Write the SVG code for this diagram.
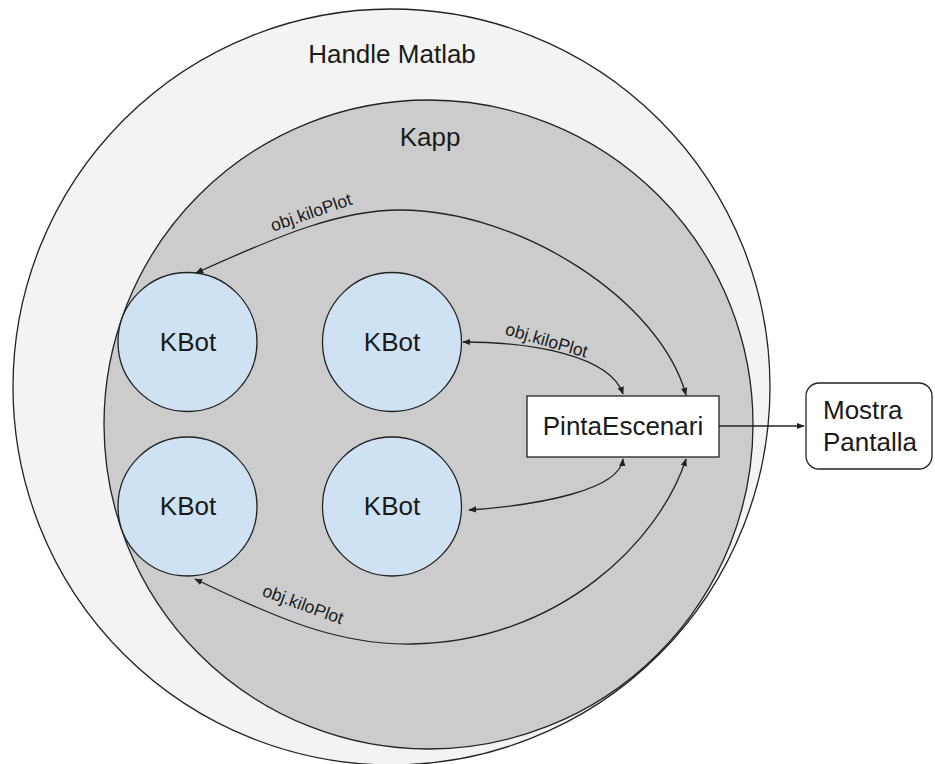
<svg xmlns="http://www.w3.org/2000/svg" width="935" height="764" viewBox="0 0 935 764">
  <style>
    .lbl { font-family: "Liberation Sans", Arial, sans-serif; fill: #1a1a1a; }
    .big { font-size: 26px; text-anchor: middle; }
    .small { font-size: 17.5px; text-anchor: middle; }
    .shape { stroke: #222; stroke-width: 1.3; }
    .edge { fill: none; stroke: #222; stroke-width: 1.3; }
  </style>
  <defs>
    <marker id="arrow" viewBox="0 0 10 10" refX="9" refY="5" markerWidth="8" markerHeight="8" markerUnits="userSpaceOnUse" orient="auto-start-reverse">
      <path d="M0,1 L10,5 L0,9 z" fill="#222"/>
    </marker>
  </defs>
  <rect width="935" height="764" fill="#ffffff"/>

  <!-- Containers -->
  <g id="handle-matlab">
    <ellipse class="shape" cx="391.5" cy="387" rx="378.5" ry="378" fill="#f3f3f3"/>
    <text class="lbl big" x="392" y="63">Handle Matlab</text>
  </g>
  <g id="kapp">
    <ellipse class="shape" cx="428.5" cy="424.5" rx="324.5" ry="324.5" fill="#cccccc"/>
    <text class="lbl big" x="430" y="146">Kapp</text>
  </g>

  <!-- Robots -->
  <g id="kbot-1">
    <circle class="shape" cx="187.5" cy="342" r="69.5" fill="#cfe2f3"/>
    <text class="lbl big" x="188" y="351">KBot</text>
  </g>
  <g id="kbot-2">
    <circle class="shape" cx="392" cy="342" r="69.5" fill="#cfe2f3"/>
    <text class="lbl big" x="392" y="351">KBot</text>
  </g>
  <g id="kbot-3">
    <circle class="shape" cx="187.5" cy="506.5" r="69.5" fill="#cfe2f3"/>
    <text class="lbl big" x="188" y="515">KBot</text>
  </g>
  <g id="kbot-4">
    <circle class="shape" cx="392" cy="506.5" r="69.5" fill="#cfe2f3"/>
    <text class="lbl big" x="392" y="515">KBot</text>
  </g>

  <!-- Renderer and output -->
  <g id="pinta-escenari">
    <rect class="shape" x="527" y="396" width="192" height="61" fill="#ffffff"/>
    <text class="lbl big" x="623" y="435">PintaEscenari</text>
  </g>
  <g id="mostra-pantalla">
    <rect class="shape" x="806" y="383" width="126" height="86" rx="13" ry="13" fill="#ffffff"/>
    <text class="lbl" font-size="26" x="823" y="419">Mostra</text>
    <text class="lbl" font-size="26" x="823" y="451">Pantalla</text>
  </g>

  <!-- Connectors -->
  <g id="connectors">
    <path class="edge" d="M196,273 C280,235 340,210 400,210 C520,210 660,300 686,395" marker-start="url(#arrow)" marker-end="url(#arrow)"/>
    <path class="edge" d="M463,342 C530,342 610,355 623,394" marker-start="url(#arrow)" marker-end="url(#arrow)"/>
    <path class="edge" d="M623,459 C620,490 540,505 469,510" marker-start="url(#arrow)" marker-end="url(#arrow)"/>
    <path class="edge" d="M195,579 C280,620 340,645 411,644 C560,642 660,540 686,459" marker-start="url(#arrow)" marker-end="url(#arrow)"/>
    <path class="edge" d="M719,426 L804,426" marker-end="url(#arrow)"/>
    <text class="lbl small" transform="translate(313,218) rotate(-19)">obj.kiloPlot</text>
    <text class="lbl small" transform="translate(545,346) rotate(16)">obj.kiloPlot</text>
    <text class="lbl small" transform="translate(301,610) rotate(20)">obj.kiloPlot</text>
  </g>
</svg>
